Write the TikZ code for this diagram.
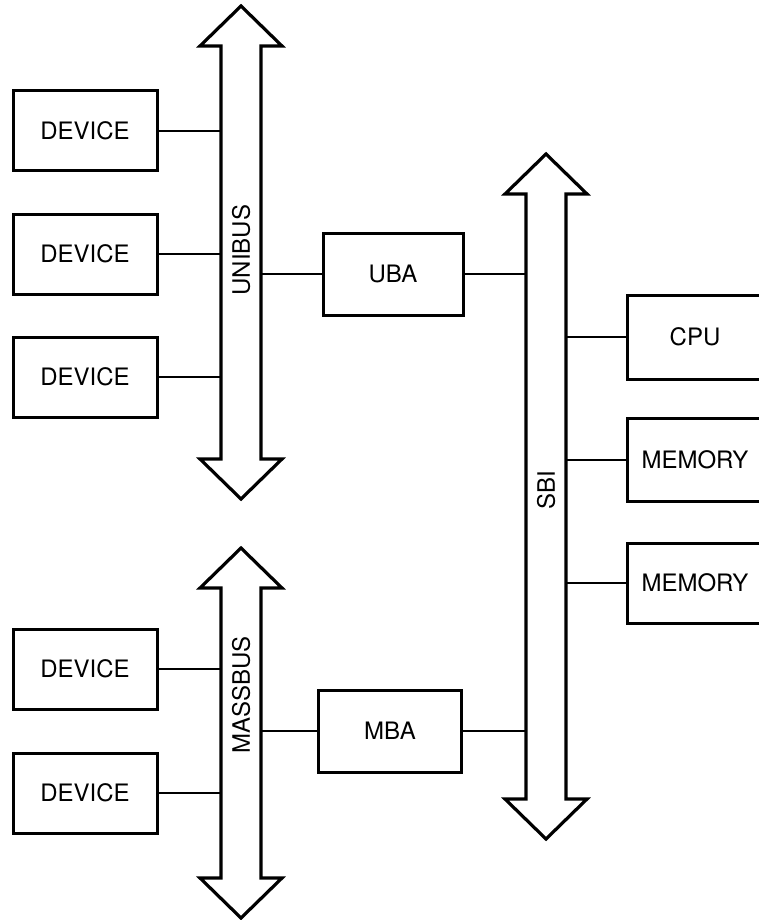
\documentclass[tikz,border=0pt]{standalone}
\usepackage{fontspec}
\setmainfont{TeX Gyre Heros}
\usepackage{tikz}
\usetikzlibrary{positioning,calc}

\newcommand{\lbl}{\fontsize{24}{28}\selectfont}
% bus outline: centre x, top tip y, bottom tip y
\newcommand{\busoutline}[3]{%
  \draw[bus] (#1,#2) -- (#1+41,#2+40) -- (#1+20,#2+40) -- (#1+20,#3-40)
    -- (#1+41,#3-40) -- (#1,#3) -- (#1-41,#3-40) -- (#1-20,#3-40)
    -- (#1-20,#2+40) -- (#1-41,#2+40) -- cycle;}

\begin{document}
\begin{tikzpicture}[
  x=1pt, y=-1pt,
  box/.style={draw, line width=3pt, minimum width=144pt, minimum height=80pt, font=\lbl, inner sep=0pt},
  bus/.style={draw, line width=3.2pt, fill=white, line join=miter},
  buslabel/.style={rotate=90, font=\lbl, inner sep=0pt},
  link/.style={line width=2pt}
]
\useasboundingbox (0,0) rectangle (759,920);
\clip (0,0) rectangle (759,920);

% buses
\busoutline{241}{6}{499}
\busoutline{241}{548}{918}
\busoutline{546}{154}{839}
\node[buslabel] (unibus) at (241,250) {UNIBUS};
\node[buslabel] (massbus) at (241,695) {MASSBUS};
\node[buslabel] (sbi) at (546,490) {SBI};
\coordinate (ub-l) at (221,0);
\coordinate (ub-r) at (261,0);
\coordinate (mb-l) at (221,0);
\coordinate (mb-r) at (261,0);
\coordinate (sbi-l) at (525,0);
\coordinate (sbi-r) at (567,0);

% devices on the unibus
\node[box] (dev1) at (85,131) {DEVICE};
\node[box] (dev2) at (85,254) {DEVICE};
\node[box] (dev3) at (85,377) {DEVICE};
% devices on the massbus
\node[box] (dev4) at (85,669) {DEVICE};
\node[box] (dev5) at (85,793) {DEVICE};

% adapters
\node[box, minimum width=140pt, minimum height=82pt] (uba) at (393,274) {UBA};
\node[box, minimum width=143pt, minimum height=82pt] (mba) at (390,731) {MBA};

% cpu and memories
\node[box, minimum width=136pt, minimum height=84pt] (cpu) at (695,337) {CPU};
\node[box, minimum width=136pt, minimum height=83pt] (mem1) at (695,460) {MEMORY};
\node[box, minimum width=136pt, minimum height=80pt] (mem2) at (695,583) {MEMORY};

\draw[link] (dev1) -- (dev1 -| ub-l);
\draw[link] (dev2) -- (dev2 -| ub-l);
\draw[link] (dev3) -- (dev3 -| ub-l);
\draw[link] (dev4) -- (dev4 -| mb-l);
\draw[link] (dev5) -- (dev5 -| mb-l);
\draw[link] (uba -| ub-r) -- (uba);
\draw[link] (uba) -- (uba -| sbi-l);
\draw[link] (mba -| mb-r) -- (mba);
\draw[link] (mba) -- (mba -| sbi-l);
\draw[link] (cpu -| sbi-r) -- (cpu);
\draw[link] (mem1 -| sbi-r) -- (mem1);
\draw[link] (mem2 -| sbi-r) -- (mem2);
\end{tikzpicture}
\end{document}
